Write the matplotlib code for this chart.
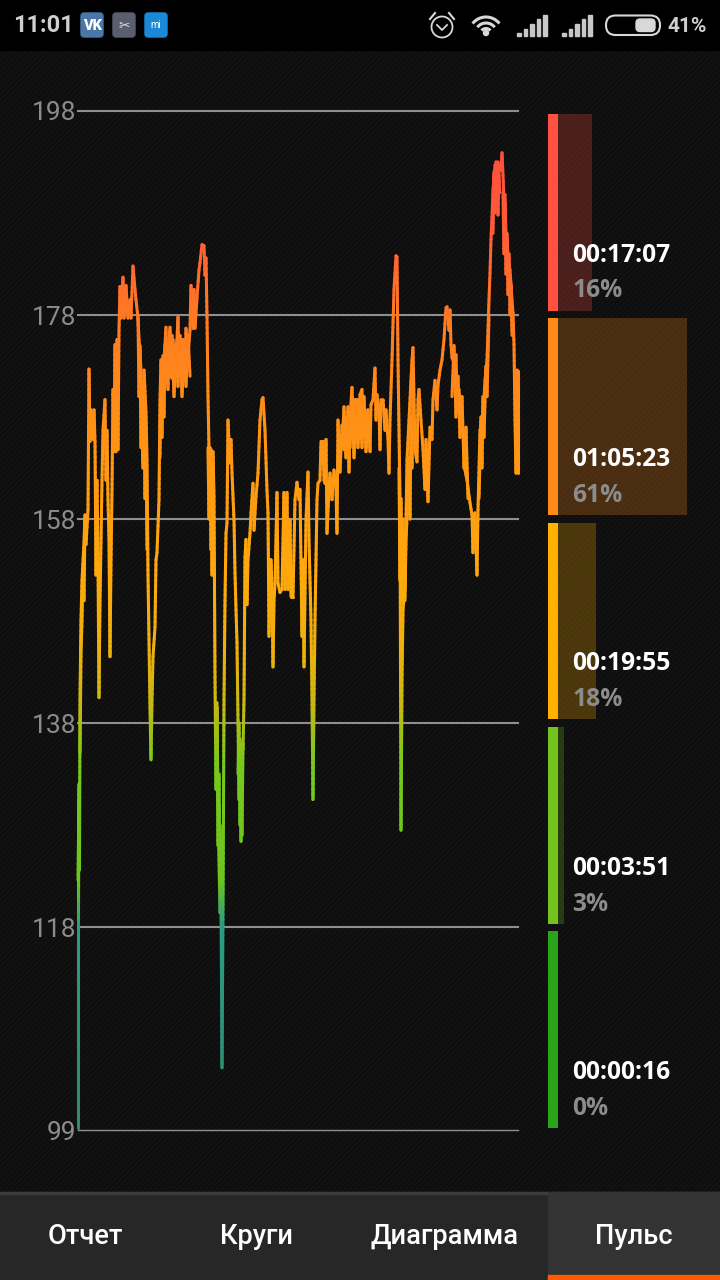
import numpy as np
import matplotlib
matplotlib.use('Agg')
import matplotlib.pyplot as plt
from matplotlib.collections import LineCollection
from matplotlib.colors import LinearSegmentedColormap, Normalize
from matplotlib.patches import Rectangle, FancyBboxPatch, Circle, Arc

# pulse trace, position along the session and heart rate
trace_x = [78,78,79,79.5,80,81,82,84,85,86,88,89,90,91,93,94,95,96,97,98,99,100,102,103,105,106,107,108,109,110,
           111,112,113,114,115,116,117,118,119,120,121,123,124,126,128,130,131,133,135,136,138,139,141,142,143,144,146,147,148,149,
           150,151,152,153,155,156,157,159,160,161,162,164,165,166,167,168,169,170,172,173,174,175,177,178,179,181,182,183,185,186,
           188,190,191,193,194,195,197,199,200,202,204,205,206,207,208,209,210,211,212,213,214,215,216,217,218,219,220,221,222,223,
           224,225,226,227,228,230,231,232,234,235,236,237,238,239,240,241,242,243,244,245,246,247,248,250,251,253,254,256,258,260,
           262,263,265,267,268,269,271,272,273,274,275,277,278,280,282,284,285,287,288,290,291,293,295,297,299,300,302,303,304,306,
           308,309,311,312,313,314,315,316,317,318,320,321,323,324,325,326,327,329,330,332,334,336,337,338,340,342,344,346,348,349,
           350,352,353,355,356,357,358,360,362,363,365,366,368,370,371,373,375,376,377,379,380,381,383,385,386,388,389,390,392,394,
           396,397,398,399,400,401,402,403,405,406,407,409,412,413,414,415,417,418,419,421,423,425,426,428,430,432,433,435,437,438,
           440,442,444,446,447,449,450,451,452,453,455,456,457,459,461,463,465,467,470,472,473,474,475,477,478,480,482,484,485,487,
           488,489,490,491,492,493,495,497,498,499,501,502,503,504,505,506,507,508,510,512,513,514,515,516,517,518,518]
trace_bpm = [98.3,122.6,130.5,123.6,140.3,148.1,152,155.7,158.4,155.5,158.9,172.7,165.6,168.7,165.8,168.7,165.6,152.5,161.8,154,140.5,150,161.8,166.7,169.7,161.8,166.7,159.9,155.9,144.5,
             154,160.9,170.7,164.6,175.1,164.6,175.6,164.8,176.5,180.8,177.7,181.7,177.7,180.9,177.7,179.5,177.7,182.8,180.5,179.5,177.7,175.6,172.6,168.7,163.7,172.6,168.5,163.8,152.5,146.2,
             139.5,134.4,140.3,144.5,147.4,154,154.7,159.9,169.7,173.6,169.7,173.6,175.1,176.8,172.6,170.7,175.6,176.8,171.8,175.6,171.6,174.6,175.6,177.8,172.8,175.6,172.8,175.6,172.6,176.7,
             174,176.5,180.9,176.7,180.5,176.7,179.7,182.4,183.1,184.9,184.8,181.9,183.6,177.8,170,164.8,158.6,164.8,152.5,164.6,160.2,142.5,131.5,139.5,130.5,124.6,119.4,121.4,104.2,119.7,
             140.3,150,156.6,157.6,167.7,163.5,165.8,162.5,157.9,152.7,149.1,145.9,138.3,130.5,136.4,126.4,135.9,135.4,140.3,154.3,156,149.6,154,156.6,158.6,161.5,156.9,160.2,162.5,167.7,
             169.7,169.9,166.7,160.8,158.6,146.5,154,151.1,143.5,150,151.7,160.6,151.7,150.8,151.1,160.6,151.1,160.6,151.1,157.9,150.4,150.4,159.9,161.6,159.9,160.9,146.5,154,143.5,157.9,
             162.6,155.9,148.1,140.3,130.5,140.3,148.1,154,159.9,161.5,161.8,165.6,165.6,161.8,161.5,165.8,156.6,160.9,162.5,159.9,162.8,160.9,156.6,167.7,162.6,167.2,164.8,167.7,167.7,162.6,
             167.7,170.9,165.8,169.7,165.8,169.7,166.7,170.2,170.7,166.7,168.7,164.6,168.7,164.6,169.2,169.7,172.8,167.7,170.2,168.7,164.8,169.7,169.7,166.7,168.7,165.8,162.5,167.7,173.6,180.5,
             183.8,183.7,173.6,166.7,159.9,127.5,142.2,149.1,151.4,157.9,163.8,167.7,173.6,174.8,169.7,164.8,163.6,169.7,170.7,167.7,164.8,160.9,165.8,159.7,167,165.8,169.7,171.6,168.7,171.1,
             172.6,173.6,175.6,178.7,178.8,176.5,178.5,175.1,173.8,173.6,173.1,174.1,169.7,170.7,167.7,166.7,162.8,161.8,159.6,158.4,154.7,158.4,158.6,152.5,158.9,166.7,167.7,169.7,171.6,173.6,
             176.5,179.5,182.1,185.4,187.6,190.3,192.7,192.9,187.8,192.7,192.2,193.9,191.7,189.3,189.8,185.8,185.7,183.7,182.4,179.5,178.2,175.1,167.7,162.5,172.6,172.5,162.5]

# stretches where the trace is a dense jagged band, drawn on top of the main run
band_x = [[78.5,79,78.5,79], [80,81,82,83,84,85], [138,139,140,141,142,143,144,145,146,147], [160,161,162,163,164,165],
          [168,170,172,174,176,178,180,182,184,186,188,190], [208,209,210,211,212], [217,218,219,220,219,221,220,222],
          [238,239,240,241,242,243], [342,344,346,348,350,352,354,356,358,360,362,364,366], [399,400,401,402,403,404],
          [405,406,408,409,410,411,412,413], [452,454,456,458,460,462,464,466,468], [479,481,482,483,484,486,487,489],
          [493,494,495,496,497,498,500], [503,504,505,506,507,508,509,510,511,512]]
band_bpm = [[120,132,124,130], [135,145,148,153,150,158], [178,170,175,165,171,163,168,160,165,155], [164,172,166,174,168,175],
            [174,172,176,170,175,171,176,170,174,171,176,172], [165,158,165,155,160], [140,126,133,122,130,120,128,118],
            [133,138,128,136,127,136], [165,169,164,169,165,170,164,169,165,169,165,170,165], [163,152,160,150,158,152],
            [150,156,160,164,158,168,163,172], [170,175,168,172,166,170,163,167,160], [160,168,163,170,166,173,170,178],
            [186,192,188,193,189,193,190], [190,184,189,182,186,180,184,178,181,176]]

# axis labels
y_ticks = [198, 178, 158, 138, 118, 98.1]
y_labels = ['198', '178', '158', '138', '118', '99']

# time in each heart rate zone
zone_times = ['00:17:07', '01:05:23', '00:19:55', '00:03:51', '00:00:16']
zone_pct = [16, 61, 18, 3, 0]
zone_colors = ['#ff5040', '#ff8b17', '#ffb000', '#72c41c', '#2aa51a']

tabs = ['Отчет', 'Круги', 'Диаграмма', 'Пульс']

W, H = 720, 1280
GRAY = '#8c8c8c'
ICON = '#d8d8d8'


def box(x0, y0, x1, y1):
    # pixel box (top left origin) to figure fractions
    return [x0 / W, 1 - y1 / H, (x1 - x0) / W, (y1 - y0) / H]


def draw_chrome(ui):
    # background, status bar and tabs, all in screen pixels
    ui.add_patch(Rectangle((0, 50), W, 1142, facecolor='#0e0e0e', edgecolor='#141414', hatch='//////', lw=0))
    ui.add_patch(Rectangle((0, 0), W, 50, color='black'))
    ui.add_patch(Rectangle((0, 1192), W, 88, color='#272727'))
    ui.add_patch(Rectangle((0, 1192), W, 1.5, color='#3c3c3c'))
    ui.add_patch(Rectangle((548, 1192), 172, 88, color='#333333'))
    ui.add_patch(Rectangle((548, 1275), 172, 5, color='#ff5a00'))
    for name, cx in zip(tabs, [85, 256, 445, 634]):
        ui.text(cx, 1236, name, color='white', fontsize=19.6, family='Roboto', weight='medium', ha='center', va='center')

    ui.text(13, 26, '11:01', color='#cfcfcf', fontsize=17, family='Roboto', weight='bold', va='center')
    for x0, c in zip([81, 113, 145], ['#4a76a8', '#5a5f70', '#1a8ad8']):
        ui.add_patch(FancyBboxPatch((x0 + 3, 16), 16, 18, boxstyle='round,pad=3,rounding_size=3', color=c))
    ui.text(92, 25.5, 'VK', color='white', fontsize=10.5, family='Roboto', weight='black', ha='center', va='center')
    ui.text(124, 25.5, '✂', color='#dddddd', fontsize=10, ha='center', va='center')
    ui.text(156, 25.5, 'mi', color='white', fontsize=7, family='Roboto', ha='center', va='center')

    # alarm clock
    ui.add_patch(Circle((442, 27), 10.5, fill=False, ec=ICON, lw=1.3))
    ui.plot([437, 442, 447], [25, 30, 25], color=ICON, lw=1.3)
    ui.plot([430, 435], [19, 13], color=ICON, lw=1.5)
    ui.plot([449, 454], [13, 19], color=ICON, lw=1.5)
    # wifi
    for d in [34, 22, 11]:
        ui.add_patch(Arc((486, 34), d, d, theta1=218, theta2=322, ec=ICON, lw=2.2))
    ui.add_patch(Circle((486, 33), 2.5, color=ICON))
    # signal bars
    for x0 in [517, 562]:
        for i, h in enumerate([3, 7, 12, 17, 21]):
            ui.add_patch(Rectangle((x0 + i * 6.6, 36 - h), 3.5, h, color='#c8c8c8'))
    # battery
    ui.add_patch(FancyBboxPatch((606, 15.5), 54, 19.5, boxstyle='round,pad=0,rounding_size=9.5', fill=False, ec=ICON, lw=1.5))
    ui.add_patch(FancyBboxPatch((636, 19), 19, 12.5, boxstyle='round,pad=0,rounding_size=4', color=ICON))
    ui.text(707, 26, '41%', color='#cfcfcf', fontsize=15, family='Roboto', weight='bold', ha='right', va='center')


def draw_pulse(ax, runs):
    # colour follows the heart rate, so each segment is cut into short pieces
    cmap = LinearSegmentedColormap.from_list('pulse', [
        (0.0, '#2f8a70'), (0.20, '#2a9d80'), (0.245, '#6cc51f'), (0.36, '#78c81c'), (0.42, '#c8b814'),
        (0.47, '#efb00c'), (0.55, '#ffa80c'), (0.70, '#ff9016'), (0.80, '#ff7a22'), (0.88, '#ff5c38'), (1.0, '#ff4a3c')])
    segs, vals = [], []
    for xs, ys in runs:
        for x0, y0, x1, y1 in zip(xs[:-1], ys[:-1], xs[1:], ys[1:]):
            n = max(1, int(abs(y1 - y0) / 0.5))
            for i in range(n):
                a, b = i / n, (i + 1) / n
                segs.append([(x0 + (x1 - x0) * a, y0 + (y1 - y0) * a), (x0 + (x1 - x0) * b, y0 + (y1 - y0) * b)])
                vals.append(y0 + (y1 - y0) * (a + b) / 2)
    lc = LineCollection(segs, cmap=cmap, norm=Normalize(98, 198), linewidths=2.2, capstyle='round', zorder=3)
    lc.set_array(np.array(vals))
    lc.set_clip_on(False)
    ax.add_collection(lc)


fig = plt.figure(figsize=(W / 100, H / 100), dpi=100, facecolor='black')

ui = fig.add_axes([0, 0, 1, 1], zorder=0)
ui.set_xlim(0, W)
ui.set_ylim(H, 0)
ui.axis('off')
draw_chrome(ui)

# zone bars, 2.12 px per percent, x=0 on the right edge of the solid strip
zones = fig.add_axes(box(548, 110, W, 1132), zorder=1)
zones.patch.set_alpha(0)
zones.axis('off')
zones.set_xlim(-10 / 2.12, 162 / 2.12)
zones.set_ylim(4.5, -0.5)
pos = np.arange(len(zone_pct))
zones.barh(pos, [10 / 2.12] * 5, left=-10 / 2.12, height=0.962, color=zone_colors)
zones.barh(pos, zone_pct, height=0.962, color=zone_colors, alpha=0.25)
for i in pos:
    zones.text(14.5 / 2.12, i + 0.21, zone_times[i], color='white', fontsize=17.7, family='Open Sans', weight='bold', va='center')
    zones.text(14.5 / 2.12, i + 0.385, '%d%%' % zone_pct[i], color=GRAY, fontsize=17.7, family='Open Sans', weight='bold', va='center')

# pulse chart, 10.2 px per beat
ax = fig.add_axes(box(78, 111, 518, 1130), zorder=2)
ax.patch.set_alpha(0)
ax.set_xlim(78, 518)
ax.set_ylim(98.1, 198)
ax.set_xticks([])
ax.set_yticks(y_ticks)
ax.set_yticklabels(y_labels, color=GRAY, fontsize=19, family='Roboto', va='center_baseline')
ax.tick_params(axis='y', length=0, pad=1)
for s in ax.spines.values():
    s.set_visible(False)
ax.grid(axis='y', color='#8f8f8f', lw=1.5, zorder=1)
ax.set_axisbelow(True)
ax.get_ygridlines()[-1].set_linewidth(1)
for g in ax.get_ygridlines():
    g.set_clip_on(False)
draw_pulse(ax, [(trace_x, trace_bpm)] + list(zip(band_x, band_bpm)))

fig.savefig('out.png', dpi=100, facecolor='black')
